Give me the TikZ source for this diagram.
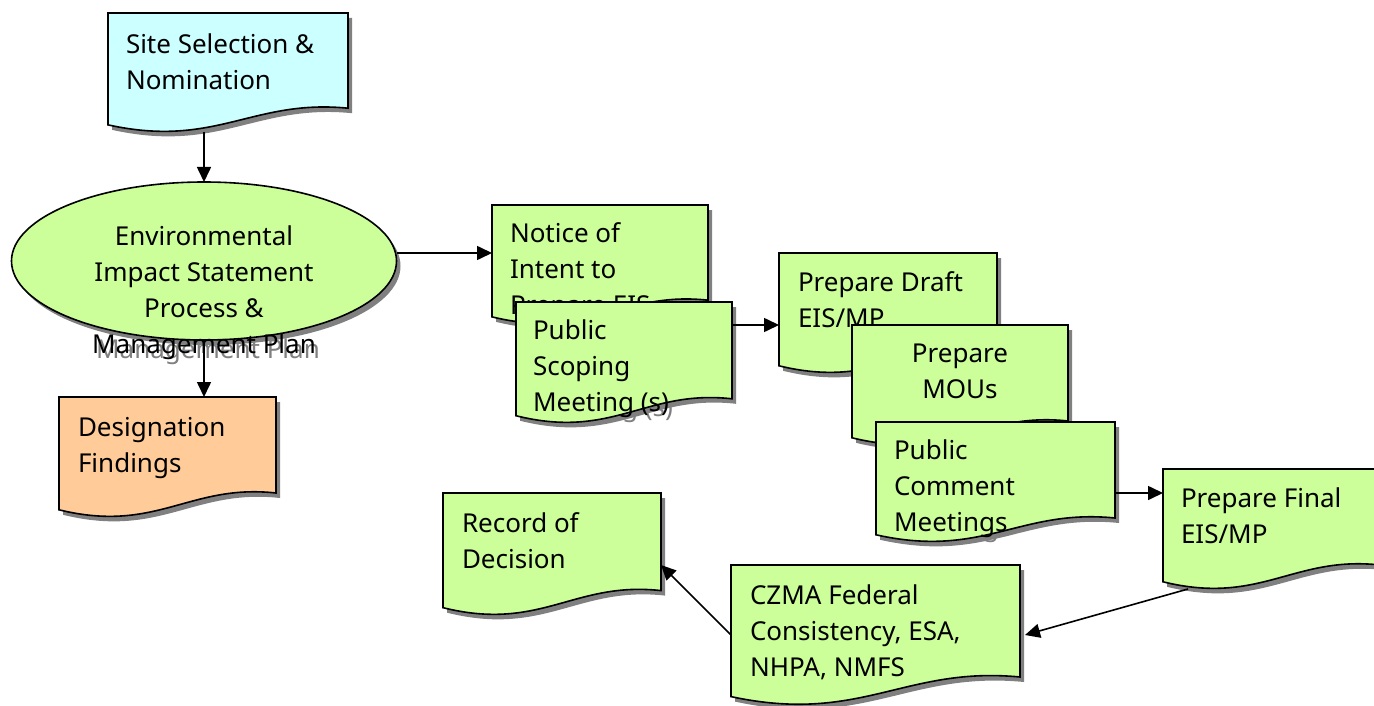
\documentclass[tikz,border=0pt]{standalone}
\usepackage{fontspec}
\setmainfont{Noto Sans}
\usetikzlibrary{shadows,arrows.meta,shapes.geometric}
\makeatletter
\pgfdeclareshape{docshape}{
  \inheritsavedanchors[from=rectangle]
  \inheritanchorborder[from=rectangle]
  \inheritanchor[from=rectangle]{center}
  \inheritanchor[from=rectangle]{north}
  \inheritanchor[from=rectangle]{south}
  \inheritanchor[from=rectangle]{east}
  \inheritanchor[from=rectangle]{west}
  \inheritanchor[from=rectangle]{north east}
  \inheritanchor[from=rectangle]{north west}
  \inheritanchor[from=rectangle]{south east}
  \inheritanchor[from=rectangle]{south west}
  \inheritanchor[from=rectangle]{text}
  \inheritanchor[from=rectangle]{base}
  \inheritanchor[from=rectangle]{mid}
  \backgroundpath{%
    \southwest\edef\docXa{\strip@pt\pgf@x}\edef\docYa{\strip@pt\pgf@y}%
    \northeast\edef\docXb{\strip@pt\pgf@x}\edef\docYb{\strip@pt\pgf@y}%
    \pgfmathsetmacro\docW{\docXb-(\docXa)}%
    \pgfmathsetmacro\docH{\docYb-(\docYa)}%
    \pgfpathmoveto{\pgfpoint{\docXa pt}{\docYb pt}}%
    \pgfpathlineto{\pgfpoint{\docXb pt}{\docYb pt}}%
    \pgfpathlineto{\pgfpoint{\docXb pt}{(\docYa+0.2*\docH)*1pt}}%
    \pgfpathcurveto
      {\pgfpoint{(\docXa+0.6*\docW)*1pt}{(\docYa+0.28*\docH)*1pt}}%
      {\pgfpoint{(\docXa+0.45*\docW)*1pt}{(\docYa-0.14*\docH)*1pt}}%
      {\pgfpoint{\docXa pt}{(\docYa+0.06*\docH)*1pt}}%
    \pgfpathclose
  }
}
\makeatother
\definecolor{cyanfill}{HTML}{CCFFFF}
\definecolor{greenfill}{HTML}{CCFF99}
\definecolor{orangefill}{HTML}{FFCC99}
\definecolor{shadowgray}{HTML}{808080}
\newcommand\lefttext[1]{\begin{minipage}[t]{330pt}\raggedright\fontsize{26}{36}\selectfont #1\end{minipage}}
\newcommand\centertext[2]{\begin{minipage}[t]{#1}\centering\fontsize{26}{36}\selectfont #2\end{minipage}}
\tikzset{
  boxshadow/.style={drop shadow={shadow xshift=4pt, shadow yshift=-5pt, fill=shadowgray, opacity=1}},
  docbox/.style={shape=docshape, draw=black, line width=1.6pt, inner sep=0pt, outer sep=0pt, anchor=north west, boxshadow},
  procell/.style={ellipse, draw=black, line width=1.6pt, inner sep=0pt, outer sep=0pt, fill=greenfill, boxshadow},
  txt/.style={inner sep=0pt, outer sep=0pt, anchor=base west, text=black},
  txtshadow/.style={txt, text=shadowgray},
  flow/.style={line width=1.6pt, -{Triangle[length=15pt,width=14pt]}},
}
\begin{document}
\begin{tikzpicture}[x=1pt,y=-1pt]
\useasboundingbox (0,0) rectangle (1374,706);
\clip (0,0) rectangle (1374,706);
\fill[white] (0,0) rectangle (1374,706);

% Site selection
\node[txtshadow] (site-s) at (130,59) {\lefttext{Site Selection \&\\Nomination}};
\node[docbox, fill=cyanfill, minimum width=240pt, minimum height=119pt] (site) at (108,13) {};
\node[txt] (site-t) at (126,54) {\lefttext{Site Selection \&\\Nomination}};

% EIS process ellipse
\node[txtshadow, anchor=base] (ell-s) at (208,250) {\centertext{330pt}{Environmental\\Impact Statement\\Process \&\\Management Plan}};
\node[procell, minimum width=385pt, minimum height=158pt] (ell) at (204,261) {};
\node[txt, anchor=base] (ell-t) at (204,245) {\centertext{330pt}{Environmental\\Impact Statement\\Process \&\\Management Plan}};

% Designation findings
\node[txtshadow] (desig-s) at (82,441) {\lefttext{Designation\\Findings}};
\node[docbox, fill=orangefill, minimum width=217pt, minimum height=120pt] (desig) at (59,397) {};
\node[txt] (desig-t) at (78,436) {\lefttext{Designation\\Findings}};

% Notice of intent
\node[txtshadow] (notice-s) at (514,247) {\lefttext{Notice of\\Intent to\\Prepare EIS}};
\node[docbox, fill=greenfill, minimum width=216pt, minimum height=119pt] (notice) at (492,205) {};
\node[txt] (notice-t) at (510,242) {\lefttext{Notice of\\Intent to\\Prepare EIS}};

% Public scoping
\node[txtshadow] (pubscop-s) at (537,344) {\lefttext{Public\\Scoping\\Meeting (s)}};
\node[docbox, fill=greenfill, minimum width=216pt, minimum height=121pt] (pubscop) at (516,302) {};
\node[txt] (pubscop-t) at (533,339) {\lefttext{Public\\Scoping\\Meeting (s)}};

% Prepare draft
\node[txtshadow] (draft-s) at (802,296) {\lefttext{Prepare Draft\\EIS/MP}};
\node[docbox, fill=greenfill, minimum width=218pt, minimum height=120pt] (draft) at (779,253) {};
\node[txt] (draft-t) at (798,291) {\lefttext{Prepare Draft\\EIS/MP}};

% Prepare MOUs
\node[txtshadow, anchor=base] (mous-s) at (964,367) {\centertext{216pt}{Prepare\\MOUs}};
\node[docbox, fill=greenfill, minimum width=216pt, minimum height=120pt] (mous) at (852,325) {};
\node[txt, anchor=base] (mous-t) at (960,362) {\centertext{216pt}{Prepare\\MOUs}};

% Public comment
\node[txtshadow] (comment-s) at (898,464) {\lefttext{Public\\Comment\\Meetings}};
\node[docbox, fill=greenfill, minimum width=239pt, minimum height=120pt] (comment) at (876,422) {};
\node[txt] (comment-t) at (894,459) {\lefttext{Public\\Comment\\Meetings}};

% Prepare final
\node[txtshadow] (final-s) at (1185,512) {\lefttext{Prepare Final\\EIS/MP}};
\node[docbox, fill=greenfill, minimum width=217pt, minimum height=120pt] (final) at (1163,469) {};
\node[txt] (final-t) at (1181,507) {\lefttext{Prepare Final\\EIS/MP}};

% Record of decision
\node[txtshadow] (record-s) at (466,537) {\lefttext{Record of\\Decision}};
\node[docbox, fill=greenfill, minimum width=218pt, minimum height=122pt] (record) at (443,493) {};
\node[txt] (record-t) at (462,532) {\lefttext{Record of\\Decision}};

% CZMA
\node[txtshadow] (czma-s) at (754,609) {\lefttext{CZMA Federal\\Consistency, ESA,\\NHPA, NMFS}};
\node[docbox, fill=greenfill, minimum width=289pt, minimum height=140pt] (czma) at (731,565) {};
\node[txt] (czma-t) at (750,604) {\lefttext{CZMA Federal\\Consistency, ESA,\\NHPA, NMFS}};

% connectors
\coordinate (e1) at ([yshift=8pt]ell.east);
\coordinate (p1) at ([yshift=-23pt]pubscop.north east);
\coordinate (c1) at ([yshift=-71pt]comment.north east);
\coordinate (f1) at ([xshift=25pt]final.south west);
\coordinate (z1) at ([xshift=5pt]czma.east);
\coordinate (r1) at ([yshift=-11pt]record.east);
\draw[flow] (ell.north |- site.south) -- (ell.north);
\draw[flow] (ell.south) -- (ell.south |- desig.north);
\draw[flow] (e1) -- (e1 -| notice.west);
\draw[flow] (p1) -- (p1 -| draft.west);
\draw[flow] (c1) -- (c1 -| final.west);
\draw[flow] (f1) -- (z1);
\draw[flow] (czma.west) -- (r1);
\end{tikzpicture}
\end{document}
